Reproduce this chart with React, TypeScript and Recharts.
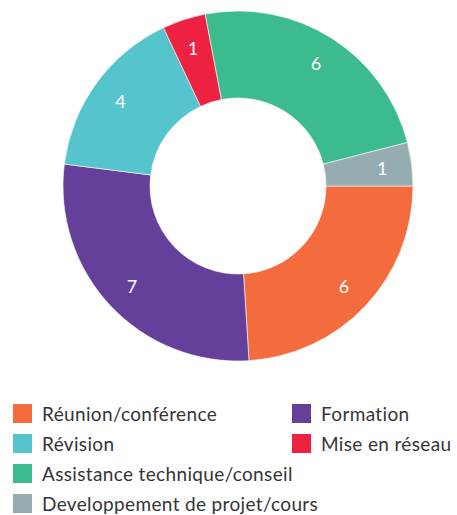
import React from "react";
import { PieChart, Pie, Cell, Legend } from "recharts";

const CATEGORIES = [
  "Réunion/conférence",
  "Formation",
  "Révision",
  "Mise en réseau",
  "Assistance technique/conseil",
  "Developpement de projet/cours",
];
const VALUES = [6, 7, 4, 1, 6, 1];
const COLORS = ["#f46c3e", "#65409a", "#56c4cc", "#ec2240", "#3cbb8f", "#95acb0"];

const data = CATEGORIES.map((name, i) => ({ name, value: VALUES[i] }));

const RADIAN = Math.PI / 180;
const FONT = "Lato, 'Open Sans', sans-serif";

// value label sits a bit past the middle of the ring
const renderLabel = (props: any) => {
  const { cx, cy, midAngle, innerRadius, outerRadius, value } = props;
  const r = innerRadius + (outerRadius - innerRadius) * 0.66;
  const x = cx + r * Math.cos(-midAngle * RADIAN);
  const y = cy + r * Math.sin(-midAngle * RADIAN);
  return (
    <text
      x={x}
      y={y}
      fill="#ffffff"
      textAnchor="middle"
      dominantBaseline="central"
      fontFamily={FONT}
      fontSize={18}
    >
      {value}
    </text>
  );
};

const LegendContent = () => (
  <div
    style={{
      display: "grid",
      gridTemplateColumns: "279px 1fr",
      gridAutoRows: "30px",
      paddingLeft: 13,
      fontFamily: FONT,
      fontSize: 19,
      letterSpacing: 0.35,
      color: "#353535",
    }}
  >
    {CATEGORIES.map((name, i) => (
      <div
        key={name}
        style={{
          display: "flex",
          alignItems: "center",
          gridColumn: i >= 4 ? "1 / span 2" : undefined,
          whiteSpace: "nowrap",
        }}
      >
        <span
          style={{
            display: "inline-block",
            width: 19,
            height: 19,
            background: COLORS[i],
            marginRight: 10,
          }}
        />
        {name}
      </div>
    ))}
  </div>
);

export default function App() {
  return (
    <div style={{ position: "absolute", left: 0, top: 0, width: 457, height: 515, background: "#fff" }}>
      <PieChart width={457} height={515} margin={{ top: 0, right: 0, bottom: 0, left: 0 }}>
        <Pie
          data={data}
          dataKey="value"
          nameKey="name"
          cx={238}
          cy={186}
          innerRadius={88}
          outerRadius={175}
          startAngle={0}
          endAngle={-360}
          stroke="#ffffff"
          strokeWidth={0.6}
          label={renderLabel}
          labelLine={false}
          isAnimationActive={false}
        >
          {data.map((entry, i) => (
            <Cell key={`cell-${i}`} fill={COLORS[i]} />
          ))}
        </Pie>
        <Legend
          content={<LegendContent />}
          wrapperStyle={{ position: "absolute", left: 0, top: 398, width: 457, bottom: "auto" }}
        />
      </PieChart>
    </div>
  );
}
